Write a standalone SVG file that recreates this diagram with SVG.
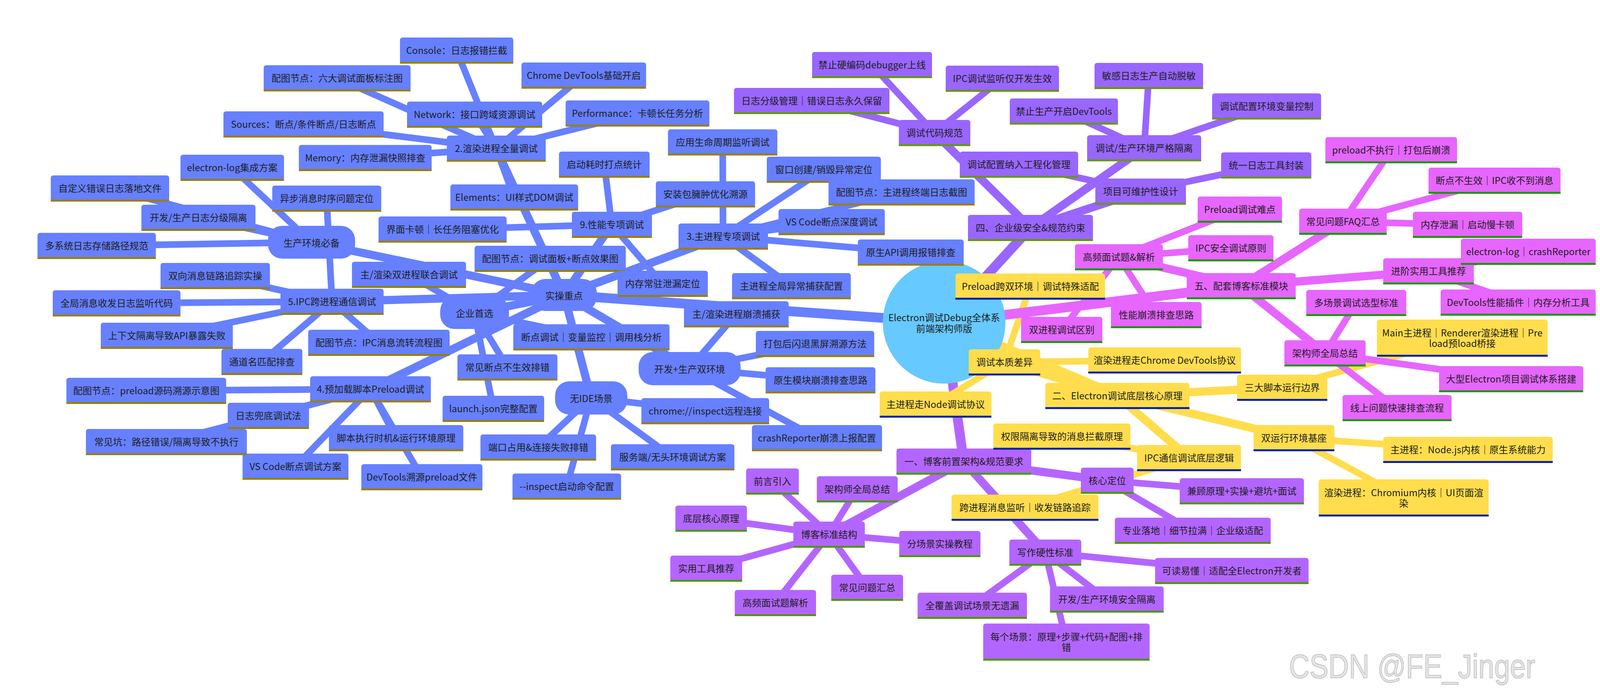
<svg xmlns="http://www.w3.org/2000/svg" width="4385" height="1784" viewBox="0 0 4385 1784">
<style>
line{fill:none}
.e0{stroke-width:25}.e1{stroke-width:21}.e2{stroke-width:17}
.sb line{stroke:#6680ff}.sy line{stroke:#ffdd4d}.sv line{stroke:#b366ff}.sp line{stroke:#9966ff}.sm line{stroke:#e666ff}
.b path,.b rect.f{fill:#6680ff}.b rect.u{fill:#997f00}
.y path{fill:#ffdd4d}.y rect.u{fill:#0022b2}
.v path{fill:#b366ff}.v rect.u{fill:#4c9900}
.p path{fill:#9966ff}.p rect.u{fill:#669900}
.m path{fill:#e666ff}.m rect.u{fill:#199900}
text{font-family:"Noto Sans CJK SC","Noto Sans",sans-serif;font-size:24px;fill:#1e1e1e;text-anchor:middle;dominant-baseline:central}
.wm{font-family:"Liberation Sans",Arial,sans-serif;font-size:86px;fill:#e6e6e6;stroke:#c4c4c4;stroke-width:2;text-anchor:start;dominant-baseline:alphabetic}
</style>
<rect width="4385" height="1784" fill="#ffffff"/>
<g id="connectors">
<g class="sv">
<line class="e0" x1="2417" y1="825" x2="2467" y2="1181"/>
<line class="e1" x1="2467" y1="1181" x2="2834" y2="1230"/>
<line class="e2" x1="2834" y1="1230" x2="3179" y2="1258"/>
<line class="e2" x1="2834" y1="1230" x2="3053" y2="1359"/>
<line class="e1" x1="2467" y1="1181" x2="2676" y2="1414"/>
<line class="e2" x1="2676" y1="1414" x2="3153" y2="1461"/>
<line class="e2" x1="2676" y1="1414" x2="2489" y2="1550"/>
<line class="e2" x1="2676" y1="1414" x2="2730" y2="1643"/>
<line class="e2" x1="2676" y1="1414" x2="2833" y2="1534"/>
<line class="e1" x1="2467" y1="1181" x2="2122" y2="1368"/>
<line class="e2" x1="2122" y1="1368" x2="1977" y2="1232"/>
<line class="e2" x1="2122" y1="1368" x2="1820" y2="1327"/>
<line class="e2" x1="2122" y1="1368" x2="2406" y2="1392"/>
<line class="e2" x1="2122" y1="1368" x2="1808" y2="1455"/>
<line class="e2" x1="2122" y1="1368" x2="2220" y2="1504"/>
<line class="e2" x1="2122" y1="1368" x2="1985" y2="1543"/>
<line class="e2" x1="2122" y1="1368" x2="2194" y2="1252"/>
</g>
<g class="sy">
<line class="e0" x1="2417" y1="825" x2="2860" y2="1013"/>
<line class="e1" x1="2860" y1="1013" x2="3312" y2="1121"/>
<line class="e2" x1="3312" y1="1121" x2="3758" y2="1152"/>
<line class="e2" x1="3312" y1="1121" x2="3593" y2="1274"/>
<line class="e1" x1="2860" y1="1013" x2="2571" y2="927"/>
<line class="e2" x1="2571" y1="927" x2="2395" y2="1035"/>
<line class="e2" x1="2571" y1="927" x2="2981" y2="922"/>
<line class="e2" x1="2571" y1="927" x2="2637" y2="734"/>
<line class="e1" x1="2860" y1="1013" x2="3282" y2="992"/>
<line class="e2" x1="3282" y1="992" x2="3743" y2="865"/>
<line class="e1" x1="2860" y1="1013" x2="3044" y2="1172"/>
<line class="e2" x1="3044" y1="1172" x2="2624" y2="1299"/>
<line class="e2" x1="3044" y1="1172" x2="2718" y2="1117"/>
</g>
<g class="sb">
<line class="e0" x1="2417" y1="825" x2="1444" y2="755"/>
<line class="e1" x1="1444" y1="755" x2="1215" y2="801"/>
<line class="e2" x1="1215" y1="801" x2="1514" y2="863"/>
<line class="e2" x1="1215" y1="801" x2="1263" y2="1046"/>
<line class="e2" x1="1215" y1="801" x2="1299" y2="940"/>
<line class="e2" x1="1215" y1="801" x2="1047" y2="703"/>
<line class="e2" x1="1215" y1="801" x2="1408" y2="662"/>
<line class="e1" x1="1444" y1="755" x2="1270" y2="380"/>
<line class="e2" x1="1270" y1="380" x2="1494" y2="193"/>
<line class="e2" x1="1270" y1="380" x2="1316" y2="505"/>
<line class="e2" x1="1270" y1="380" x2="1169" y2="130"/>
<line class="e2" x1="1270" y1="380" x2="777" y2="318"/>
<line class="e2" x1="1270" y1="380" x2="1215" y2="293"/>
<line class="e2" x1="1270" y1="380" x2="1632" y2="290"/>
<line class="e2" x1="1270" y1="380" x2="935" y2="404"/>
<line class="e2" x1="1270" y1="380" x2="863" y2="200"/>
<line class="e1" x1="1444" y1="755" x2="1851" y2="605"/>
<line class="e2" x1="1851" y1="605" x2="2129" y2="568"/>
<line class="e2" x1="1851" y1="605" x2="1850" y2="364"/>
<line class="e2" x1="1851" y1="605" x2="2109" y2="434"/>
<line class="e2" x1="1851" y1="605" x2="2331" y2="646"/>
<line class="e2" x1="1851" y1="605" x2="2026" y2="732"/>
<line class="e2" x1="1851" y1="605" x2="2308" y2="492"/>
<line class="e1" x1="1444" y1="755" x2="948" y2="996"/>
<line class="e2" x1="948" y1="996" x2="1014" y2="1121"/>
<line class="e2" x1="948" y1="996" x2="1080" y2="1221"/>
<line class="e2" x1="948" y1="996" x2="756" y2="1194"/>
<line class="e2" x1="948" y1="996" x2="687" y2="1064"/>
<line class="e2" x1="948" y1="996" x2="426" y2="1131"/>
<line class="e2" x1="948" y1="996" x2="374" y2="1000"/>
<line class="e1" x1="1444" y1="755" x2="850" y2="772"/>
<line class="e2" x1="850" y1="772" x2="551" y2="706"/>
<line class="e2" x1="850" y1="772" x2="298" y2="776"/>
<line class="e2" x1="850" y1="772" x2="670" y2="926"/>
<line class="e2" x1="850" y1="772" x2="427" y2="859"/>
<line class="e2" x1="850" y1="772" x2="836" y2="508"/>
<line class="e2" x1="850" y1="772" x2="970" y2="877"/>
<line class="e1" x1="1444" y1="755" x2="1513" y2="1018"/>
<line class="e2" x1="1513" y1="1018" x2="1805" y2="1052"/>
<line class="e2" x1="1513" y1="1018" x2="1451" y2="1245"/>
<line class="e2" x1="1513" y1="1018" x2="1378" y2="1145"/>
<line class="e2" x1="1513" y1="1018" x2="1722" y2="1170"/>
<line class="e1" x1="1444" y1="755" x2="1765" y2="943"/>
<line class="e2" x1="1765" y1="943" x2="1885" y2="804"/>
<line class="e2" x1="1765" y1="943" x2="2086" y2="880"/>
<line class="e2" x1="1765" y1="943" x2="2100" y2="973"/>
<line class="e2" x1="1765" y1="943" x2="2091" y2="1121"/>
<line class="e1" x1="1444" y1="755" x2="797" y2="620"/>
<line class="e2" x1="797" y1="620" x2="594" y2="429"/>
<line class="e2" x1="797" y1="620" x2="281" y2="482"/>
<line class="e2" x1="797" y1="620" x2="508" y2="557"/>
<line class="e2" x1="797" y1="620" x2="247" y2="629"/>
<line class="e1" x1="1444" y1="755" x2="1566" y2="575"/>
<line class="e2" x1="1566" y1="575" x2="1547" y2="421"/>
<line class="e2" x1="1566" y1="575" x2="1133" y2="587"/>
<line class="e2" x1="1566" y1="575" x2="1696" y2="726"/>
<line class="e2" x1="1566" y1="575" x2="1806" y2="497"/>
</g>
<g class="sp">
<line class="e0" x1="2417" y1="825" x2="2638" y2="583"/>
<line class="e1" x1="2638" y1="583" x2="2392" y2="340"/>
<line class="e2" x1="2392" y1="340" x2="2232" y2="166"/>
<line class="e2" x1="2392" y1="340" x2="2566" y2="201"/>
<line class="e2" x1="2392" y1="340" x2="2078" y2="258"/>
<line class="e1" x1="2638" y1="583" x2="2929" y2="379"/>
<line class="e2" x1="2929" y1="379" x2="2723" y2="285"/>
<line class="e2" x1="2929" y1="379" x2="2941" y2="194"/>
<line class="e2" x1="2929" y1="379" x2="3242" y2="272"/>
<line class="e1" x1="2638" y1="583" x2="2920" y2="490"/>
<line class="e2" x1="2920" y1="490" x2="3241" y2="423"/>
<line class="e2" x1="2920" y1="490" x2="2608" y2="421"/>
</g>
<g class="sm">
<line class="e0" x1="2417" y1="825" x2="3177" y2="732"/>
<line class="e1" x1="3177" y1="732" x2="3438" y2="567"/>
<line class="e2" x1="3438" y1="567" x2="3561" y2="385"/>
<line class="e2" x1="3438" y1="567" x2="3826" y2="463"/>
<line class="e2" x1="3438" y1="567" x2="3757" y2="576"/>
<line class="e1" x1="3177" y1="732" x2="3657" y2="694"/>
<line class="e2" x1="3657" y1="694" x2="3912" y2="645"/>
<line class="e2" x1="3657" y1="694" x2="3886" y2="774"/>
<line class="e1" x1="3177" y1="732" x2="2864" y2="658"/>
<line class="e2" x1="2864" y1="658" x2="3174" y2="536"/>
<line class="e2" x1="2864" y1="658" x2="3151" y2="635"/>
<line class="e2" x1="2864" y1="658" x2="2960" y2="807"/>
<line class="e2" x1="2864" y1="658" x2="2718" y2="844"/>
<line class="e1" x1="3177" y1="732" x2="3392" y2="904"/>
<line class="e2" x1="3392" y1="904" x2="3472" y2="775"/>
<line class="e2" x1="3392" y1="904" x2="3868" y2="971"/>
<line class="e2" x1="3392" y1="904" x2="3576" y2="1045"/>
</g>
</g>
<g id="root"><circle cx="2417" cy="825" r="157" fill="#66c9ff"/><text x="2417" y="811">Electron调试Debug全体系</text><text x="2417" y="839">前端架构师版</text></g>

<g id="v1" class="v" transform="translate(2295,1148)"><path d="M0,62V7q0,-7 7,-7h331q7,0 7,7V62Z"/><rect class="u" y="62" width="345" height="5"/><text x="172.5" y="31">一、博客前置架构&amp;规范要求</text></g>
<g id="v2" class="v" transform="translate(2767,1197)"><path d="M0,62V7q0,-7 7,-7h121q7,0 7,7V62Z"/><rect class="u" y="62" width="135" height="5"/><text x="67.5" y="31">核心定位</text></g>
<g id="v3" class="v" transform="translate(3020,1224)"><path d="M0,62V7q0,-7 7,-7h304q7,0 7,7V62Z"/><rect class="u" y="62" width="318" height="5"/><text x="159" y="31">兼顾原理+实操+避坑+面试</text></g>
<g id="v4" class="v" transform="translate(2854,1325)"><path d="M0,62V7q0,-7 7,-7h385q7,0 7,7V62Z"/><rect class="u" y="62" width="399" height="5"/><text x="199.5" y="31">专业落地｜细节拉满｜企业级适配</text></g>
<g id="v6" class="v" transform="translate(2584,1381)"><path d="M0,62V7q0,-7 7,-7h170q7,0 7,7V62Z"/><rect class="u" y="62" width="184" height="5"/><text x="92" y="31">写作硬性标准</text></g>
<g id="v7" class="v" transform="translate(2957,1428)"><path d="M0,62V7q0,-7 7,-7h379q7,0 7,7V62Z"/><rect class="u" y="62" width="393" height="5"/><text x="196.5" y="31">可读易懂｜适配全Electron开发者</text></g>
<g id="v8" class="v" transform="translate(2349,1517)"><path d="M0,62V7q0,-7 7,-7h266q7,0 7,7V62Z"/><rect class="u" y="62" width="280" height="5"/><text x="140" y="31">全覆盖调试场景无遗漏</text></g>
<g id="v10" class="v" transform="translate(2517,1596)"><path d="M0,90V7q0,-7 7,-7h412q7,0 7,7V90Z"/><rect class="u" y="90" width="426" height="5"/><text x="213" y="32">每个场景：原理+步骤+代码+配图+排</text><text x="213" y="59">错</text></g>
<g id="v9" class="v" transform="translate(2688,1501)"><path d="M0,62V7q0,-7 7,-7h277q7,0 7,7V62Z"/><rect class="u" y="62" width="291" height="5"/><text x="145.5" y="31">开发/生产环境安全隔离</text></g>
<g id="v14" class="v" transform="translate(2031,1335)"><path d="M0,62V7q0,-7 7,-7h169q7,0 7,7V62Z"/><rect class="u" y="62" width="183" height="5"/><text x="91.5" y="31">博客标准结构</text></g>
<g id="v11" class="v" transform="translate(1910,1199)"><path d="M0,62V7q0,-7 7,-7h121q7,0 7,7V62Z"/><rect class="u" y="62" width="135" height="5"/><text x="67.5" y="31">前言引入</text></g>
<g id="v13" class="v" transform="translate(1729,1294)"><path d="M0,62V7q0,-7 7,-7h169q7,0 7,7V62Z"/><rect class="u" y="62" width="183" height="5"/><text x="91.5" y="31">底层核心原理</text></g>
<g id="v5" class="v" transform="translate(2302,1359)"><path d="M0,62V7q0,-7 7,-7h194q7,0 7,7V62Z"/><rect class="u" y="62" width="208" height="5"/><text x="104" y="31">分场景实操教程</text></g>
<g id="v15" class="v" transform="translate(1716,1422)"><path d="M0,62V7q0,-7 7,-7h170q7,0 7,7V62Z"/><rect class="u" y="62" width="184" height="5"/><text x="92" y="31">实用工具推荐</text></g>
<g id="v17" class="v" transform="translate(2128,1471)"><path d="M0,62V7q0,-7 7,-7h170q7,0 7,7V62Z"/><rect class="u" y="62" width="184" height="5"/><text x="92" y="31">常见问题汇总</text></g>
<g id="v16" class="v" transform="translate(1881,1510)"><path d="M0,62V7q0,-7 7,-7h194q7,0 7,7V62Z"/><rect class="u" y="62" width="208" height="5"/><text x="104" y="31">高频面试题解析</text></g>
<g id="v12" class="v" transform="translate(2091,1219)"><path d="M0,62V7q0,-7 7,-7h193q7,0 7,7V62Z"/><rect class="u" y="62" width="207" height="5"/><text x="103.5" y="31">架构师全局总结</text></g>

<g id="y1" class="y" transform="translate(2676,980)"><path d="M0,62V7q0,-7 7,-7h355q7,0 7,7V62Z"/><rect class="u" y="62" width="369" height="5"/><text x="184.5" y="31">二、Electron调试底层核心原理</text></g>
<g id="y7" class="y" transform="translate(3209,1088)"><path d="M0,62V7q0,-7 7,-7h193q7,0 7,7V62Z"/><rect class="u" y="62" width="207" height="5"/><text x="103.5" y="31">双运行环境基座</text></g>
<g id="y12" class="y" transform="translate(3541,1118)"><path d="M0,62V7q0,-7 7,-7h420q7,0 7,7V62Z"/><rect class="u" y="62" width="434" height="5"/><text x="217" y="31">主进程：Node.js内核｜原生系统能力</text></g>
<g id="y13" class="y" transform="translate(3376,1227)"><path d="M0,90V7q0,-7 7,-7h421q7,0 7,7V90Z"/><rect class="u" y="90" width="435" height="5"/><text x="217.5" y="32">渲染进程：Chromium内核｜UI页面渲</text><text x="217.5" y="59">染</text></g>
<g id="y2" class="y" transform="translate(2480,894)"><path d="M0,62V7q0,-7 7,-7h169q7,0 7,7V62Z"/><rect class="u" y="62" width="183" height="5"/><text x="91.5" y="31">调试本质差异</text></g>
<g id="y5" class="y" transform="translate(2252,1002)"><path d="M0,62V7q0,-7 7,-7h272q7,0 7,7V62Z"/><rect class="u" y="62" width="286" height="5"/><text x="143" y="31">主进程走Node调试协议</text></g>
<g id="y3" class="y" transform="translate(2786,889)"><path d="M0,62V7q0,-7 7,-7h377q7,0 7,7V62Z"/><rect class="u" y="62" width="391" height="5"/><text x="195.5" y="31">渲染进程走Chrome DevTools协议</text></g>
<g id="y10" class="y" transform="translate(2446,700)"><path d="M0,62V7q0,-7 7,-7h369q7,0 7,7V62Z"/><rect class="u" y="62" width="383" height="5"/><text x="191.5" y="31">Preload跨双环境｜调试特殊适配</text></g>
<g id="y4" class="y" transform="translate(3167,959)"><path d="M0,62V7q0,-7 7,-7h217q7,0 7,7V62Z"/><rect class="u" y="62" width="231" height="5"/><text x="115.5" y="31">三大脚本运行边界</text></g>
<g id="y11" class="y" transform="translate(3525,818)"><path d="M0,90V7q0,-7 7,-7h423q7,0 7,7V90Z"/><rect class="u" y="90" width="437" height="5"/><text x="218.5" y="32">Main主进程｜Renderer渲染进程｜Pre</text><text x="218.5" y="59">load预load桥接</text></g>
<g id="y8" class="y" transform="translate(2911,1139)"><path d="M0,62V7q0,-7 7,-7h252q7,0 7,7V62Z"/><rect class="u" y="62" width="266" height="5"/><text x="133" y="31">IPC通信调试底层逻辑</text></g>
<g id="y9" class="y" transform="translate(2436,1266)"><path d="M0,62V7q0,-7 7,-7h362q7,0 7,7V62Z"/><rect class="u" y="62" width="376" height="5"/><text x="188" y="31">跨进程消息监听｜收发链路追踪</text></g>
<g id="y6" class="y" transform="translate(2543,1084)"><path d="M0,62V7q0,-7 7,-7h337q7,0 7,7V62Z"/><rect class="u" y="62" width="351" height="5"/><text x="175.5" y="31">权限隔离导致的消息拦截原理</text></g>

<g id="bS" class="b" transform="translate(1360,714)"><rect class="f" width="168" height="82" rx="36"/><text x="84" y="41">实操重点</text></g>
<g id="bQ" class="b" transform="translate(1127,759)"><rect class="f" width="176" height="83" rx="36"/><text x="88" y="41.5">企业首选</text></g>
<g id="b43" class="b" transform="translate(1314,830)"><path d="M0,62V7q0,-7 7,-7h386q7,0 7,7V62Z"/><rect class="u" y="62" width="400" height="5"/><text x="200" y="31">断点调试｜变量监控｜调用栈分析</text></g>
<g id="b47" class="b" transform="translate(1133,1013)"><path d="M0,62V7q0,-7 7,-7h246q7,0 7,7V62Z"/><rect class="u" y="62" width="260" height="5"/><text x="130" y="31">launch.json完整配置</text></g>
<g id="b45" class="b" transform="translate(1171,907)"><path d="M0,62V7q0,-7 7,-7h242q7,0 7,7V62Z"/><rect class="u" y="62" width="256" height="5"/><text x="128" y="31">常见断点不生效排错</text></g>
<g id="b13" class="b" transform="translate(901,670)"><path d="M0,62V7q0,-7 7,-7h278q7,0 7,7V62Z"/><rect class="u" y="62" width="292" height="5"/><text x="146" y="31">主/渲染双进程联合调试</text></g>
<g id="b38" class="b" transform="translate(1215,629)"><path d="M0,62V7q0,-7 7,-7h373q7,0 7,7V62Z"/><rect class="u" y="62" width="387" height="5"/><text x="193.5" y="31">配图节点：调试面板+断点效果图</text></g>
<g id="b28" class="b" transform="translate(1144,347)"><path d="M0,62V7q0,-7 7,-7h239q7,0 7,7V62Z"/><rect class="u" y="62" width="253" height="5"/><text x="126.5" y="31">2.渲染进程全量调试</text></g>
<g id="b26" class="b" transform="translate(1335,160)"><path d="M0,62V7q0,-7 7,-7h305q7,0 7,7V62Z"/><rect class="u" y="62" width="319" height="5"/><text x="159.5" y="31">Chrome DevTools基础开启</text></g>
<g id="b32" class="b" transform="translate(1153,472)"><path d="M0,62V7q0,-7 7,-7h313q7,0 7,7V62Z"/><rect class="u" y="62" width="327" height="5"/><text x="163.5" y="31">Elements：UI样式DOM调试</text></g>
<g id="b1" class="b" transform="translate(1024,96)"><path d="M0,62V7q0,-7 7,-7h276q7,0 7,7V62Z"/><rect class="u" y="62" width="290" height="5"/><text x="145" y="31">Console：日志报错拦截</text></g>
<g id="b4" class="b" transform="translate(572,285)"><path d="M0,62V7q0,-7 7,-7h396q7,0 7,7V62Z"/><rect class="u" y="62" width="410" height="5"/><text x="205" y="31">Sources：断点/条件断点/日志断点</text></g>
<g id="b3" class="b" transform="translate(1042,260)"><path d="M0,62V7q0,-7 7,-7h332q7,0 7,7V62Z"/><rect class="u" y="62" width="346" height="5"/><text x="173" y="31">Network：接口跨域资源调试</text></g>
<g id="b27" class="b" transform="translate(1448,257)"><path d="M0,62V7q0,-7 7,-7h354q7,0 7,7V62Z"/><rect class="u" y="62" width="368" height="5"/><text x="184" y="31">Performance：卡顿长任务分析</text></g>
<g id="b5" class="b" transform="translate(765,371)"><path d="M0,62V7q0,-7 7,-7h326q7,0 7,7V62Z"/><rect class="u" y="62" width="340" height="5"/><text x="170" y="31">Memory：内存泄漏快照排查</text></g>
<g id="b2" class="b" transform="translate(675,167)"><path d="M0,62V7q0,-7 7,-7h362q7,0 7,7V62Z"/><rect class="u" y="62" width="376" height="5"/><text x="188" y="31">配图节点：六大调试面板标注图</text></g>
<g id="b37" class="b" transform="translate(1737,572)"><path d="M0,62V7q0,-7 7,-7h215q7,0 7,7V62Z"/><rect class="u" y="62" width="229" height="5"/><text x="114.5" y="31">3.主进程专项调试</text></g>
<g id="b36" class="b" transform="translate(1993,535)"><path d="M0,62V7q0,-7 7,-7h258q7,0 7,7V62Z"/><rect class="u" y="62" width="272" height="5"/><text x="136" y="31">VS Code断点深度调试</text></g>
<g id="b29" class="b" transform="translate(1710,331)"><path d="M0,62V7q0,-7 7,-7h266q7,0 7,7V62Z"/><rect class="u" y="62" width="280" height="5"/><text x="140" y="31">应用生命周期监听调试</text></g>
<g id="b31" class="b" transform="translate(1963,401)"><path d="M0,62V7q0,-7 7,-7h278q7,0 7,7V62Z"/><rect class="u" y="62" width="292" height="5"/><text x="146" y="31">窗口创建/销毁异常定位</text></g>
<g id="b41" class="b" transform="translate(2196,613)"><path d="M0,62V7q0,-7 7,-7h257q7,0 7,7V62Z"/><rect class="u" y="62" width="271" height="5"/><text x="135.5" y="31">原生API调用报错排查</text></g>
<g id="b40" class="b" transform="translate(1874,699)"><path d="M0,62V7q0,-7 7,-7h290q7,0 7,7V62Z"/><rect class="u" y="62" width="304" height="5"/><text x="152" y="31">主进程全局异常捕获配置</text></g>
<g id="b34" class="b" transform="translate(2121,459)"><path d="M0,62V7q0,-7 7,-7h360q7,0 7,7V62Z"/><rect class="u" y="62" width="374" height="5"/><text x="187" y="31">配图节点：主进程终端日志截图</text></g>
<g id="b20" class="b" transform="translate(794,963)"><path d="M0,62V7q0,-7 7,-7h295q7,0 7,7V62Z"/><rect class="u" y="62" width="309" height="5"/><text x="154.5" y="31">4.预加载脚本Preload调试</text></g>
<g id="b23" class="b" transform="translate(842,1088)"><path d="M0,62V7q0,-7 7,-7h330q7,0 7,7V62Z"/><rect class="u" y="62" width="344" height="5"/><text x="172" y="31">脚本执行时机&amp;运行环境原理</text></g>
<g id="b25" class="b" transform="translate(925,1188)"><path d="M0,62V7q0,-7 7,-7h296q7,0 7,7V62Z"/><rect class="u" y="62" width="310" height="5"/><text x="155" y="31">DevTools溯源preload文件</text></g>
<g id="b24" class="b" transform="translate(621,1161)"><path d="M0,62V7q0,-7 7,-7h257q7,0 7,7V62Z"/><rect class="u" y="62" width="271" height="5"/><text x="135.5" y="31">VS Code断点调试方案</text></g>
<g id="b21" class="b" transform="translate(583,1031)"><path d="M0,62V7q0,-7 7,-7h194q7,0 7,7V62Z"/><rect class="u" y="62" width="208" height="5"/><text x="104" y="31">日志兜底调试法</text></g>
<g id="b22" class="b" transform="translate(220,1098)"><path d="M0,62V7q0,-7 7,-7h398q7,0 7,7V62Z"/><rect class="u" y="62" width="412" height="5"/><text x="206" y="31">常见坑：路径错误/隔离导致不执行</text></g>
<g id="b19" class="b" transform="translate(170,967)"><path d="M0,62V7q0,-7 7,-7h395q7,0 7,7V62Z"/><rect class="u" y="62" width="409" height="5"/><text x="204.5" y="31">配图节点：preload源码溯源示意图</text></g>
<g id="b15" class="b" transform="translate(718,739)"><path d="M0,62V7q0,-7 7,-7h250q7,0 7,7V62Z"/><rect class="u" y="62" width="264" height="5"/><text x="132" y="31">5.IPC跨进程通信调试</text></g>
<g id="b12" class="b" transform="translate(411,673)"><path d="M0,62V7q0,-7 7,-7h266q7,0 7,7V62Z"/><rect class="u" y="62" width="280" height="5"/><text x="140" y="31">双向消息链路追踪实操</text></g>
<g id="b14" class="b" transform="translate(135,743)"><path d="M0,62V7q0,-7 7,-7h313q7,0 7,7V62Z"/><rect class="u" y="62" width="327" height="5"/><text x="163.5" y="31">全局消息收发日志监听代码</text></g>
<g id="b18" class="b" transform="translate(567,893)"><path d="M0,62V7q0,-7 7,-7h193q7,0 7,7V62Z"/><rect class="u" y="62" width="207" height="5"/><text x="103.5" y="31">通道名匹配排查</text></g>
<g id="b16" class="b" transform="translate(258,826)"><path d="M0,62V7q0,-7 7,-7h324q7,0 7,7V62Z"/><rect class="u" y="62" width="338" height="5"/><text x="169" y="31">上下文隔离导致API暴露失败</text></g>
<g id="b8" class="b" transform="translate(697,475)"><path d="M0,62V7q0,-7 7,-7h265q7,0 7,7V62Z"/><rect class="u" y="62" width="279" height="5"/><text x="139.5" y="31">异步消息时序问题定位</text></g>
<g id="b17" class="b" transform="translate(789,844)"><path d="M0,62V7q0,-7 7,-7h348q7,0 7,7V62Z"/><rect class="u" y="62" width="362" height="5"/><text x="181" y="31">配图节点：IPC消息流转流程图</text></g>
<g id="bW" class="b" transform="translate(1421,976)"><rect class="f" width="185" height="85" rx="36"/><text x="92.5" y="42.5">无IDE场景</text></g>
<g id="b48" class="b" transform="translate(1642,1019)"><path d="M0,62V7q0,-7 7,-7h313q7,0 7,7V62Z"/><rect class="u" y="62" width="327" height="5"/><text x="163.5" y="31">chrome://inspect远程连接</text></g>
<g id="b52" class="b" transform="translate(1312,1212)"><path d="M0,62V7q0,-7 7,-7h264q7,0 7,7V62Z"/><rect class="u" y="62" width="278" height="5"/><text x="139" y="31">--inspect启动命令配置</text></g>
<g id="b50" class="b" transform="translate(1230,1112)"><path d="M0,62V7q0,-7 7,-7h282q7,0 7,7V62Z"/><rect class="u" y="62" width="296" height="5"/><text x="148" y="31">端口占用&amp;连接失败排错</text></g>
<g id="b51" class="b" transform="translate(1564,1137)"><path d="M0,62V7q0,-7 7,-7h302q7,0 7,7V62Z"/><rect class="u" y="62" width="316" height="5"/><text x="158" y="31">服务端/无头环境调试方案</text></g>
<g id="bD" class="b" transform="translate(1635,901)"><rect class="f" width="261" height="85" rx="36"/><text x="130.5" y="42.5">开发+生产双环境</text></g>
<g id="b42" class="b" transform="translate(1751,771)"><path d="M0,62V7q0,-7 7,-7h254q7,0 7,7V62Z"/><rect class="u" y="62" width="268" height="5"/><text x="134" y="31">主/渲染进程崩溃捕获</text></g>
<g id="b44" class="b" transform="translate(1935,847)"><path d="M0,62V7q0,-7 7,-7h289q7,0 7,7V62Z"/><rect class="u" y="62" width="303" height="5"/><text x="151.5" y="31">打包后闪退黑屏溯源方法</text></g>
<g id="b46" class="b" transform="translate(1960,940)"><path d="M0,62V7q0,-7 7,-7h267q7,0 7,7V62Z"/><rect class="u" y="62" width="281" height="5"/><text x="140.5" y="31">原生模块崩溃排查思路</text></g>
<g id="b49" class="b" transform="translate(1925,1088)"><path d="M0,62V7q0,-7 7,-7h319q7,0 7,7V62Z"/><rect class="u" y="62" width="333" height="5"/><text x="166.5" y="31">crashReporter崩溃上报配置</text></g>
<g id="bP" class="b" transform="translate(686,578)"><rect class="f" width="223" height="84" rx="36"/><text x="111.5" y="42">生产环境必备</text></g>
<g id="b6" class="b" transform="translate(462,396)"><path d="M0,62V7q0,-7 7,-7h251q7,0 7,7V62Z"/><rect class="u" y="62" width="265" height="5"/><text x="132.5" y="31">electron-log集成方案</text></g>
<g id="b7" class="b" transform="translate(130,449)"><path d="M0,62V7q0,-7 7,-7h289q7,0 7,7V62Z"/><rect class="u" y="62" width="303" height="5"/><text x="151.5" y="31">自定义错误日志落地文件</text></g>
<g id="b9" class="b" transform="translate(362,524)"><path d="M0,62V7q0,-7 7,-7h278q7,0 7,7V62Z"/><rect class="u" y="62" width="292" height="5"/><text x="146" y="31">开发/生产日志分级隔离</text></g>
<g id="b10" class="b" transform="translate(96,596)"><path d="M0,62V7q0,-7 7,-7h289q7,0 7,7V62Z"/><rect class="u" y="62" width="303" height="5"/><text x="151.5" y="31">多系统日志存储路径规范</text></g>
<g id="b35" class="b" transform="translate(1464,542)"><path d="M0,62V7q0,-7 7,-7h191q7,0 7,7V62Z"/><rect class="u" y="62" width="205" height="5"/><text x="102.5" y="31">9.性能专项调试</text></g>
<g id="b30" class="b" transform="translate(1431,388)"><path d="M0,62V7q0,-7 7,-7h218q7,0 7,7V62Z"/><rect class="u" y="62" width="232" height="5"/><text x="116" y="31">启动耗时打点统计</text></g>
<g id="b11" class="b" transform="translate(969,554)"><path d="M0,62V7q0,-7 7,-7h314q7,0 7,7V62Z"/><rect class="u" y="62" width="328" height="5"/><text x="164" y="31">界面卡顿｜长任务阻塞优化</text></g>
<g id="b39" class="b" transform="translate(1581,693)"><path d="M0,62V7q0,-7 7,-7h217q7,0 7,7V62Z"/><rect class="u" y="62" width="231" height="5"/><text x="115.5" y="31">内存常驻泄漏定位</text></g>
<g id="b33" class="b" transform="translate(1679,464)"><path d="M0,62V7q0,-7 7,-7h240q7,0 7,7V62Z"/><rect class="u" y="62" width="254" height="5"/><text x="127" y="31">安装包臃肿优化溯源</text></g>

<g id="p1" class="p" transform="translate(2478,550)"><path d="M0,62V7q0,-7 7,-7h306q7,0 7,7V62Z"/><rect class="u" y="62" width="320" height="5"/><text x="160" y="31">四、企业级安全&amp;规范约束</text></g>
<g id="p8" class="p" transform="translate(2301,307)"><path d="M0,62V7q0,-7 7,-7h169q7,0 7,7V62Z"/><rect class="u" y="62" width="183" height="5"/><text x="91.5" y="31">调试代码规范</text></g>
<g id="p2" class="p" transform="translate(2079,133)"><path d="M0,62V7q0,-7 7,-7h293q7,0 7,7V62Z"/><rect class="u" y="62" width="307" height="5"/><text x="153.5" y="31">禁止硬编码debugger上线</text></g>
<g id="p4" class="p" transform="translate(2421,168)"><path d="M0,62V7q0,-7 7,-7h276q7,0 7,7V62Z"/><rect class="u" y="62" width="290" height="5"/><text x="145" y="31">IPC调试监听仅开发生效</text></g>
<g id="p3" class="p" transform="translate(1879,225)"><path d="M0,62V7q0,-7 7,-7h384q7,0 7,7V62Z"/><rect class="u" y="62" width="398" height="5"/><text x="199" y="31">日志分级管理｜错误日志永久保留</text></g>
<g id="p9" class="p" transform="translate(2783,346)"><path d="M0,62V7q0,-7 7,-7h278q7,0 7,7V62Z"/><rect class="u" y="62" width="292" height="5"/><text x="146" y="31">调试/生产环境严格隔离</text></g>
<g id="p6" class="p" transform="translate(2585,252)"><path d="M0,62V7q0,-7 7,-7h263q7,0 7,7V62Z"/><rect class="u" y="62" width="277" height="5"/><text x="138.5" y="31">禁止生产开启DevTools</text></g>
<g id="p5" class="p" transform="translate(2802,161)"><path d="M0,62V7q0,-7 7,-7h264q7,0 7,7V62Z"/><rect class="u" y="62" width="278" height="5"/><text x="139" y="31">敏感日志生产自动脱敏</text></g>
<g id="p7" class="p" transform="translate(3103,239)"><path d="M0,62V7q0,-7 7,-7h265q7,0 7,7V62Z"/><rect class="u" y="62" width="279" height="5"/><text x="139.5" y="31">调试配置环境变量控制</text></g>
<g id="p12" class="p" transform="translate(2804,457)"><path d="M0,62V7q0,-7 7,-7h218q7,0 7,7V62Z"/><rect class="u" y="62" width="232" height="5"/><text x="116" y="31">项目可维护性设计</text></g>
<g id="p11" class="p" transform="translate(3126,390)"><path d="M0,62V7q0,-7 7,-7h217q7,0 7,7V62Z"/><rect class="u" y="62" width="231" height="5"/><text x="115.5" y="31">统一日志工具封装</text></g>
<g id="p10" class="p" transform="translate(2457,388)"><path d="M0,62V7q0,-7 7,-7h289q7,0 7,7V62Z"/><rect class="u" y="62" width="303" height="5"/><text x="151.5" y="31">调试配置纳入工程化管理</text></g>

<g id="m1" class="m" transform="translate(3038,699)"><path d="M0,62V7q0,-7 7,-7h265q7,0 7,7V62Z"/><rect class="u" y="62" width="279" height="5"/><text x="139.5" y="31">五、配套博客标准模块</text></g>
<g id="m9" class="m" transform="translate(3326,534)"><path d="M0,62V7q0,-7 7,-7h210q7,0 7,7V62Z"/><rect class="u" y="62" width="224" height="5"/><text x="112" y="31">常见问题FAQ汇总</text></g>
<g id="m7" class="m" transform="translate(3393,351)"><path d="M0,62V7q0,-7 7,-7h323q7,0 7,7V62Z"/><rect class="u" y="62" width="337" height="5"/><text x="168.5" y="31">preload不执行｜打包后崩溃</text></g>
<g id="m8" class="m" transform="translate(3657,429)"><path d="M0,62V7q0,-7 7,-7h324q7,0 7,7V62Z"/><rect class="u" y="62" width="338" height="5"/><text x="169" y="31">断点不生效｜IPC收不到消息</text></g>
<g id="m10" class="m" transform="translate(3617,542)"><path d="M0,62V7q0,-7 7,-7h266q7,0 7,7V62Z"/><rect class="u" y="62" width="280" height="5"/><text x="140" y="31">内存泄漏｜启动慢卡顿</text></g>
<g id="m12" class="m" transform="translate(3541,661)"><path d="M0,62V7q0,-7 7,-7h218q7,0 7,7V62Z"/><rect class="u" y="62" width="232" height="5"/><text x="116" y="31">进阶实用工具推荐</text></g>
<g id="m11" class="m" transform="translate(3740,611)"><path d="M0,62V7q0,-7 7,-7h331q7,0 7,7V62Z"/><rect class="u" y="62" width="345" height="5"/><text x="172.5" y="31">electron-log｜crashReporter</text></g>
<g id="m13" class="m" transform="translate(3688,741)"><path d="M0,62V7q0,-7 7,-7h383q7,0 7,7V62Z"/><rect class="u" y="62" width="397" height="5"/><text x="198.5" y="31">DevTools性能插件｜内存分析工具</text></g>
<g id="m4" class="m" transform="translate(2752,625)"><path d="M0,62V7q0,-7 7,-7h211q7,0 7,7V62Z"/><rect class="u" y="62" width="225" height="5"/><text x="112.5" y="31">高频面试题&amp;解析</text></g>
<g id="m2" class="m" transform="translate(3066,503)"><path d="M0,62V7q0,-7 7,-7h202q7,0 7,7V62Z"/><rect class="u" y="62" width="216" height="5"/><text x="108" y="31">Preload调试难点</text></g>
<g id="m3" class="m" transform="translate(3042,602)"><path d="M0,62V7q0,-7 7,-7h204q7,0 7,7V62Z"/><rect class="u" y="62" width="218" height="5"/><text x="109" y="31">IPC安全调试原则</text></g>
<g id="m5" class="m" transform="translate(2844,773)"><path d="M0,62V7q0,-7 7,-7h218q7,0 7,7V62Z"/><rect class="u" y="62" width="232" height="5"/><text x="116" y="31">性能崩溃排查思路</text></g>
<g id="m6" class="m" transform="translate(2614,811)"><path d="M0,62V7q0,-7 7,-7h194q7,0 7,7V62Z"/><rect class="u" y="62" width="208" height="5"/><text x="104" y="31">双进程调试区别</text></g>
<g id="m15" class="m" transform="translate(3288,871)"><path d="M0,62V7q0,-7 7,-7h194q7,0 7,7V62Z"/><rect class="u" y="62" width="208" height="5"/><text x="104" y="31">架构师全局总结</text></g>
<g id="m14" class="m" transform="translate(3344,742)"><path d="M0,62V7q0,-7 7,-7h242q7,0 7,7V62Z"/><rect class="u" y="62" width="256" height="5"/><text x="128" y="31">多场景调试选型标准</text></g>
<g id="m16" class="m" transform="translate(3684,937)"><path d="M0,62V7q0,-7 7,-7h355q7,0 7,7V62Z"/><rect class="u" y="62" width="369" height="5"/><text x="184.5" y="31">大型Electron项目调试体系搭建</text></g>
<g id="m17" class="m" transform="translate(3437,1011)"><path d="M0,62V7q0,-7 7,-7h265q7,0 7,7V62Z"/><rect class="u" y="62" width="279" height="5"/><text x="139.5" y="31">线上问题快速排查流程</text></g>

<text class="wm" x="3300" y="1735" textLength="630" lengthAdjust="spacingAndGlyphs">CSDN @FE_Jinger</text>
</svg>
